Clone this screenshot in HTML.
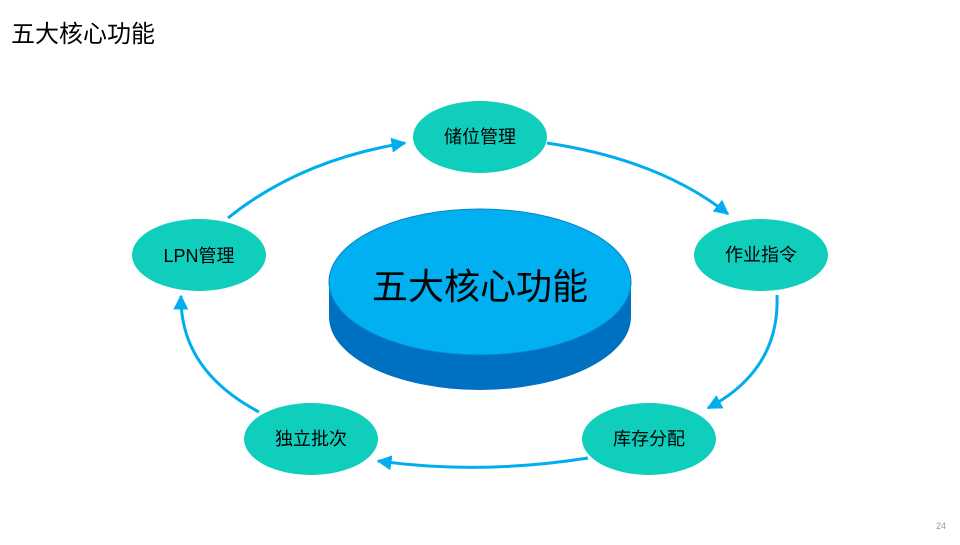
<!DOCTYPE html>
<html><head><meta charset="utf-8"><style>
body{margin:0;width:960px;height:540px;background:#fff;overflow:hidden;font-family:"Liberation Sans","Noto Sans CJK SC",sans-serif}
</style></head><body>
<svg width="960" height="540" viewBox="0 0 960 540" xmlns="http://www.w3.org/2000/svg" font-family="Liberation Sans, Noto Sans CJK SC, sans-serif">
<defs>
<marker id="a" viewBox="0 0 10 10" refX="9" refY="5" markerWidth="5" markerHeight="5" orient="auto"><path d="M0,0 L10,5 L0,10 z" fill="#00AEEF"/></marker>
</defs>
<text x="11" y="42" font-size="24" fill="#000">五大核心功能</text>
<g fill="none" stroke="#00AEEF" stroke-width="3" marker-end="url(#a)">
<path d="M228,218 Q300,160 405,143"/>
<path d="M547,143 Q660,160 728,214"/>
<path d="M777,295 Q780,370 708,408"/>
<path d="M588,458 Q480,475 378,461"/>
<path d="M259,412 Q180,370 181,296"/>
</g>
<path d="M329,282 L329,317 A151,73 0 0 0 631,317 L631,282 z" fill="#0070C0"/>
<ellipse cx="480" cy="282" rx="151" ry="73" fill="#00B0F0" stroke="#0A84CC" stroke-width="1"/>
<text x="480" y="299" font-size="36" text-anchor="middle" fill="#000">五大核心功能</text>
<g fill="#0FCEBC">
<ellipse cx="480" cy="137" rx="67" ry="36"/>
<ellipse cx="761" cy="255" rx="67" ry="36"/>
<ellipse cx="649" cy="439" rx="67" ry="36"/>
<ellipse cx="311" cy="439" rx="67" ry="36"/>
<ellipse cx="199" cy="255" rx="67" ry="36"/>
</g>
<g font-size="18" text-anchor="middle" fill="#000">
<text x="480" y="143">储位管理</text>
<text x="761" y="261">作业指令</text>
<text x="649" y="445">库存分配</text>
<text x="311" y="445">独立批次</text>
<text x="199" y="262">LPN管理</text>
</g>
<text x="941" y="529" font-size="9" fill="#999" text-anchor="middle">24</text>
</svg>
</body></html>
